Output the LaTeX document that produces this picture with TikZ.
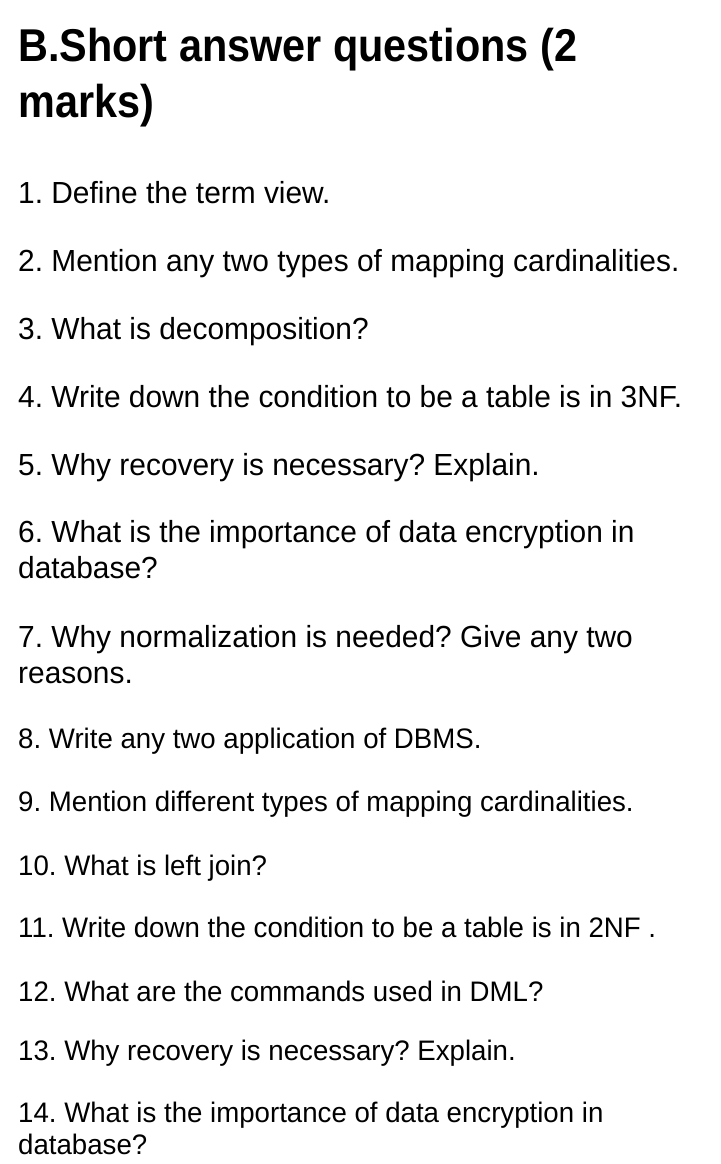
\documentclass[tikz,border=0pt]{standalone}
\usepackage{fontspec}
\setmainfont{Liberation Sans}[FakeStretch=0.98]
\newfontfamily\headfont{Liberation Sans Bold}[FakeStretch=0.9]
\usepackage{tikz}
\usetikzlibrary{positioning}
\frenchspacing

\begin{document}
\begin{tikzpicture}[
  x=1pt, y=-1pt,
  title/.style={anchor=base west,inner sep=0pt,font=\fontsize{46}{54}\headfont},
  qbig/.style={anchor=base west,inner sep=0pt,font=\fontsize{30.5}{36}\selectfont},
  qsmall/.style={anchor=base west,inner sep=0pt,font=\fontsize{28.2}{34}\selectfont}
]
  \useasboundingbox[fill=white] (0,0) rectangle (720,1164);

  \node[title] (t1) at (18, 62) {B.Short answer questions (2};
  \node[title] (t2) at (18, 117) {marks)};

  \node[qbig] (q1) at (18, 203) {1. Define the term view.};
  \node[qbig] (q2) at (18, 271) {2. Mention any two types of mapping cardinalities.};
  \node[qbig] (q3) at (18, 339) {3. What is decomposition?};
  \node[qbig] (q4) at (18, 407) {4. Write down the condition to be a table is in 3NF.};
  \node[qbig] (q5) at (18, 475) {5. Why recovery is necessary? Explain.};
  \node[qbig] (q6) at (18, 542) {6. What is the importance of data encryption in};
  \node[qbig] (q6b) at (18, 578) {database?};
  \node[qbig] (q7) at (18, 647) {7. Why normalization is needed? Give any two};
  \node[qbig] (q7b) at (18, 683) {reasons.};

  \node[qsmall] (q8) at (18, 748) {8. Write any two application of DBMS.};
  \node[qsmall] (q9) at (18, 811) {9. Mention different types of mapping cardinalities.};
  \node[qsmall] (q10) at (18, 875) {10. What is left join?};
  \node[qsmall] (q11) at (18, 937) {11. Write down the condition to be a table is in 2NF .};
  \node[qsmall] (q12) at (18, 1001) {12. What are the commands used in DML?};
  \node[qsmall] (q13) at (18, 1060) {13. Why recovery is necessary? Explain.};
  \node[qsmall] (q14) at (18, 1122) {14. What is the importance of data encryption in};
  \node[qsmall] (q14b) at (18, 1154) {database?};
\end{tikzpicture}
\end{document}
